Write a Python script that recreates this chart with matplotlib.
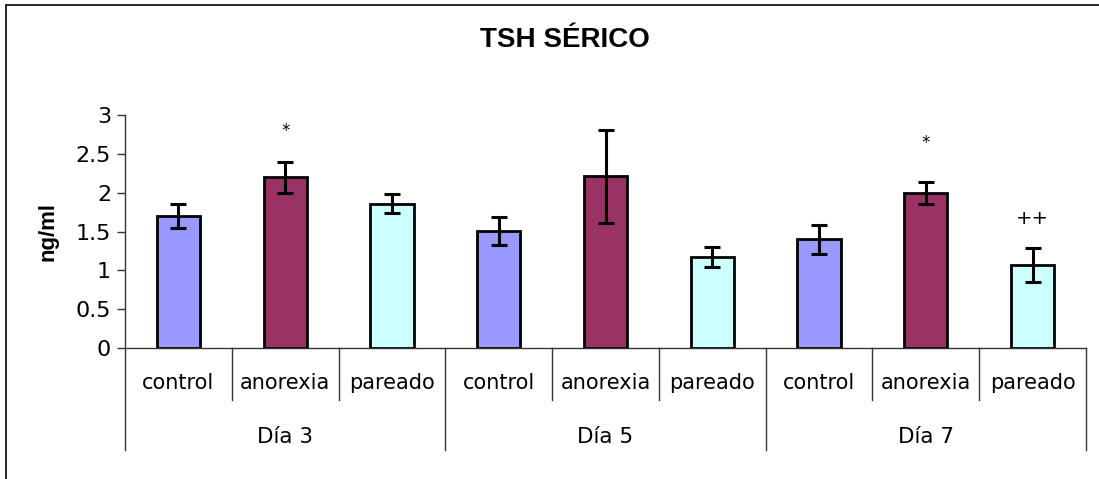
import matplotlib
matplotlib.use("Agg")
import matplotlib.pyplot as plt
from matplotlib.transforms import blended_transform_factory
from matplotlib.patches import Rectangle

# ---- data ----
days = ["Día 3", "Día 5", "Día 7"]
groups = ["control", "anorexia", "pareado"]
values = [1.70, 2.20, 1.86,
          1.51, 2.21, 1.17,
          1.40, 2.00, 1.07]
errors = [0.16, 0.20, 0.12,
          0.18, 0.60, 0.13,
          0.19, 0.14, 0.22]
marks = ["", "*", "",
         "", "", "",
         "", "*", "++"]
mark_y = [0, 2.79, 0,
          0, 0, 0,
          0, 2.64, 1.67]
colors = {"control": "#9999FF", "anorexia": "#993366", "pareado": "#CCFFFF"}

W, H = 1099, 479
fig = plt.figure(figsize=(W / 100, H / 100), dpi=100)
ax = fig.add_axes([125 / W, 1 - 348 / H, (1086 - 125) / W, (348 - 115) / H])

n = len(values)
xs = [i + 0.5 for i in range(n)]
cat_labels = [groups[i % 3] for i in range(n)]
bar_colors = [colors[g] for g in cat_labels]

ax.bar(xs, values, width=0.405, color=bar_colors, edgecolor="black",
       linewidth=2.0, zorder=2)
ax.errorbar(xs, values, yerr=errors, fmt="none", ecolor="black",
            elinewidth=2.2, capsize=5.8, capthick=2.2, zorder=3)

for x, m, my in zip(xs, marks, mark_y):
    if m:
        fs = 12 if m == "*" else 14
        ax.text(x, my, m, ha="center", va="center", fontsize=fs,
                family="DejaVu Sans", color="black")

ax.set_xlim(0, n)
ax.set_ylim(0, 3)
ax.set_yticks([0, 0.5, 1, 1.5, 2, 2.5, 3])
ax.set_yticklabels(["0", "0.5", "1", "1.5", "2", "2.5", "3"])
ax.tick_params(axis="y", direction="out", length=6, width=1, colors="#333333",
               labelsize=16, labelcolor="black", pad=4)
for lab in ax.get_yticklabels():
    lab.set_family("DejaVu Sans")
ax.set_xticks([])

for side in ["top", "right"]:
    ax.spines[side].set_visible(False)
for side in ["left", "bottom"]:
    ax.spines[side].set_color("#333333")
    ax.spines[side].set_linewidth(1)

ax.set_ylabel("ng/ml", fontsize=16, fontweight="bold",
              family="Liberation Sans", labelpad=12)

# category axis labels and dividers
tr = blended_transform_factory(ax.transData, ax.transAxes)
ph = 348 - 115
for i in range(n + 1):
    bottom = -(450 - 348) / ph if i % 3 == 0 else -(400 - 348) / ph
    ax.plot([i, i], [0, bottom], color="#333333", lw=1, transform=tr,
            clip_on=False)
for x, lab in zip(xs, cat_labels):
    ax.text(x, -(383 - 348) / ph, lab, transform=tr, ha="center", va="center",
            fontsize=15, family="DejaVu Sans")
for j, d in enumerate(days):
    ax.text(3 * j + 1.5, -(437 - 348) / ph, d, transform=tr, ha="center",
            va="center", fontsize=15.5, family="DejaVu Sans")

fig.text(565 / W, 1 - 40 / H, "TSH SÉRICO", ha="center", va="center",
         fontsize=20, fontweight="bold", family="Liberation Sans")

# chart area border (cropped on right/bottom)
fig.patches.append(Rectangle((6 / W, -0.05), 1.2, 1 - 5 / H + 0.05,
                             transform=fig.transFigure, fill=False,
                             edgecolor="black", linewidth=1.2))

fig.savefig("out.png", dpi=100)
